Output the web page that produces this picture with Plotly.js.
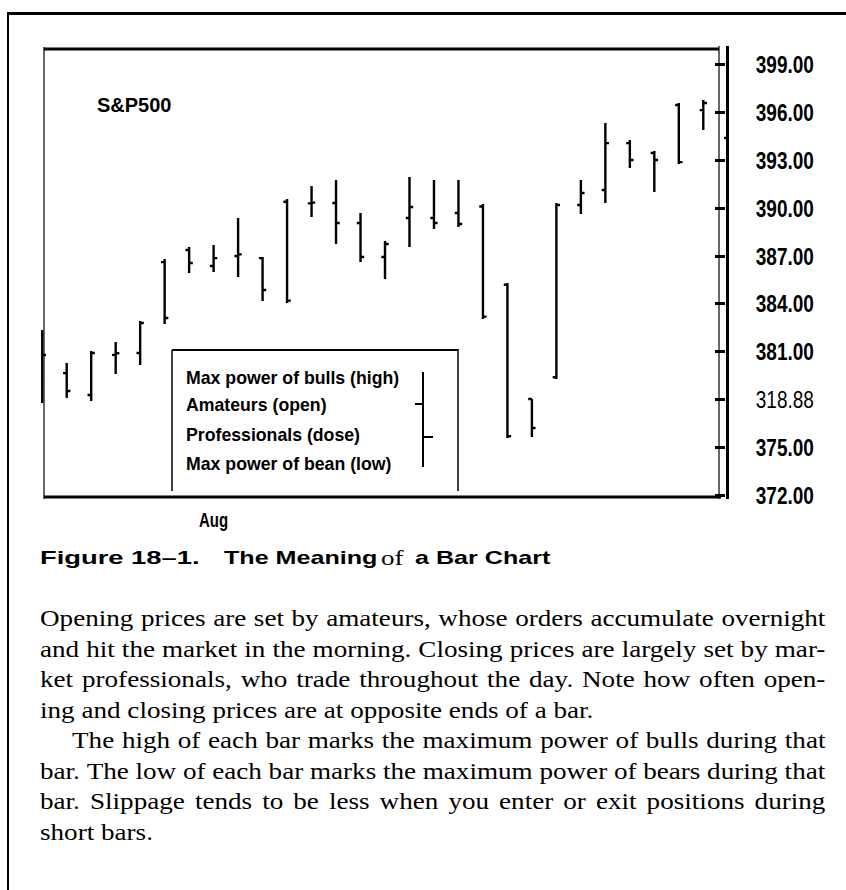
<!DOCTYPE html>
<html>
<head>
<meta charset="utf-8">
<script src="https://cdn.plot.ly/plotly-3.0.1.min.js"></script>
<style>
  html, body { margin: 0; padding: 0; background: #fff; }
  #page { position: relative; width: 846px; height: 890px; background: #fff; overflow: hidden; }
  #chart { position: absolute; left: 0; top: 0; width: 846px; height: 890px; }
  #frame { position: absolute; left: 7px; top: 12px; width: 839px; height: 878px; box-sizing: border-box;
           border-top: 3px solid #000; border-left: 2px solid #000; pointer-events: none; }
  .cap { position: absolute; white-space: nowrap; color: #000; line-height: 1; transform-origin: 0 0; }
  .capSans { font-family: "Liberation Sans", Arial, sans-serif; font-weight: bold; font-size: 18.6px; }
  .capSerif { font-family: "Liberation Serif", "Times New Roman", serif; font-size: 20px; }
  #body { position: absolute; left: 40px; top: 604px; width: 654.6px; transform: scaleX(1.2); transform-origin: 0 0;
          font-family: "Liberation Serif", "Times New Roman", serif; font-size: 22.6px; line-height: 30.5px; color: #000; }
  .jl { display: flex; justify-content: space-between; white-space: nowrap; }
  .ll { white-space: nowrap; }
</style>
</head>
<body>
<div id="page">
  <div id="chart"></div>
  <div id="frame"></div>
  <div id="caption"></div>
  <div id="body"></div>
</div>
<script>
// ---------------- data ----------------
const barIndex = [0,1,2,3,4,5,6,7,8,9,10,11,12,13,14,15,16,17,18,19,20,21,22,23,24,25,26,27,28];
const openVals  = [379.29,379.66,378.29,380.80,380.92,386.62,387.38,386.37,387.00,386.87,390.40,390.30,390.32,389.07,386.94,389.38,389.38,389.70,390.10,385.20,378.03,379.40,390.20,391.14,394.08,393.46,396.47,396.15,394.40];
const highVals  = [382.36,380.29,381.04,381.61,382.92,386.81,387.56,387.69,389.38,386.94,390.57,391.39,391.76,389.70,387.94,391.95,391.76,391.76,390.26,385.31,378.03,390.32,391.76,395.34,394.27,393.58,396.59,396.78,396.15];
const lowVals   = [377.78,378.10,377.91,379.60,380.17,382.74,385.93,386.00,385.68,384.18,384.05,389.45,387.75,386.62,385.56,387.56,388.69,388.82,383.05,375.59,375.65,379.29,389.63,390.32,392.52,391.01,392.77,394.90,392.83];
const closeVals = [380.79,378.54,380.92,380.90,382.80,383.11,386.56,386.87,387.10,384.87,384.20,390.35,389.07,386.94,387.75,390.07,389.07,389.01,383.20,375.70,376.22,390.20,390.95,394.08,393.02,393.02,392.89,396.59,395.03];

const priceTicks    = [372, 375, 378, 381, 384, 387, 390, 393, 396, 399];
const priceTickText = ['372.00','375.00','318.88','381.00','384.00','387.00','390.00','393.00','396.00','399.00'];
const monthTickIndex = [7];
const monthTickText  = ['Aug'];

const chartLabel = 'S&P500';
const legendLabels = ['Max power of bulls (high)', 'Amateurs (open)', 'Professionals (dose)', 'Max power of bean (low)'];

const captionParts = ['Figure 18\u20131.', 'The Meaning', 'of', 'a Bar Chart'];
const bodyLines = [
  'Opening prices are set by amateurs, whose orders accumulate overnight',
  'and hit the market in the morning. Closing prices are largely set by mar-',
  'ket professionals, who trade throughout the day. Note how often open-',
  'ing and closing prices are at opposite ends of a bar.',
  'The high of each bar marks the maximum power of bulls during that',
  'bar. The low of each bar marks the maximum power of bears during that',
  'bar. Slippage tends to be less when you enter or exit positions during',
  'short bars.'
];

// ---------------- layout helpers ----------------
const L = 41, R = 729, T = 49, B = 497;          // plot area in pixels
const W = 846, H = 890;
const px = x => (x - L) / (R - L);
const py = y => (B - y) / (B - T);

const sans = '"Liberation Sans", Arial, sans-serif';

const trace = {
  type: 'ohlc',
  x: barIndex, open: openVals, high: highVals, low: lowVals, close: closeVals,
  increasing: { line: { color: '#000', width: 2.4 } },
  decreasing: { line: { color: '#000', width: 2.4 } },
  tickwidth: 0.15,
  hoverinfo: 'skip',
  showlegend: false
};

function seg(x0, y0, x1, y1, w) {
  return { type: 'line', xref: 'paper', yref: 'paper', x0: px(x0), y0: py(y0), x1: px(x1), y1: py(y1),
           line: { color: '#000', width: w } };
}

const shapes = [
  seg(44, 49, 719, 49, 3),      // top border
  seg(44, 497, 721, 497, 3),    // bottom border
  seg(44, 47, 44, 499, 1.2),    // left axis
  seg(719, 46, 719, 499, 1.2),  // right thin axis
  seg(727.5, 46, 727.5, 499, 3),// right thick line
  // legend box
  seg(172, 350, 172, 491, 1.5),
  seg(172, 350, 458, 350, 2),
  seg(458, 349, 458, 491, 1.5),
  // legend glyph
  seg(423, 372, 423, 467, 2),
  seg(415, 404, 423, 404, 2),
  seg(423, 437, 433, 437, 2)
];

const legendY = [378, 405, 435, 464];
const annotations = [
  { xref: 'paper', yref: 'paper', x: px(95), y: py(105), xanchor: 'left', yanchor: 'middle', showarrow: false,
    text: '<b>' + chartLabel + '</b>', font: { family: sans, size: 20, color: '#000' } }
].concat(legendLabels.map((t, i) => ({
    xref: 'paper', yref: 'paper', x: px(184), y: py(legendY[i]), xanchor: 'left', yanchor: 'middle', showarrow: false,
    text: '<b>' + t + '</b>', font: { family: sans, size: 17.7, color: '#000' }
})));

const layout = {
  width: W, height: H,
  margin: { l: L, r: W - R, t: T, b: H - B, pad: 0 },
  paper_bgcolor: '#fff', plot_bgcolor: '#fff',
  showlegend: false,
  font: { family: sans, color: '#000' },
  xaxis: {
    range: [-0.05, 28.05], rangeslider: { visible: false },
    showgrid: false, zeroline: false, showline: false,
    tickmode: 'array', tickvals: monthTickIndex, ticktext: monthTickText.map(t => '<b>' + t + '</b>'),
    ticks: '', ticklabelstandoff: 12,
    tickfont: { family: sans, size: 15, color: '#000' }
  },
  yaxis: {
    range: [371.89, 399.98], side: 'right', anchor: 'free', position: px(714),
    showgrid: false, zeroline: false, showline: false,
    tickmode: 'array', tickvals: priceTicks,
    ticktext: priceTickText.map(t => t === '318.88' ? t : '<b>' + t + '</b>'),
    ticks: 'outside', ticklen: 10, tickwidth: 3, tickcolor: '#000',
    ticklabelstandoff: 27,
    tickfont: { family: sans, size: 19, color: '#000' }
  },
  shapes: shapes,
  annotations: annotations
};

Plotly.newPlot('chart', [trace], layout, { staticPlot: true, displayModeBar: false }).then(() => {
  // stretch the tick labels vertically to mimic the tall plotter font
  document.querySelectorAll('#chart .ytick text, #chart .xtick text').forEach(el => {
    const bb = el.getBBox();
    const cy = bb.y + bb.height / 2;
    const t = el.getAttribute('transform') || '';
    el.setAttribute('transform', t + ' translate(0,' + cy + ') scale(1,1.3) translate(0,' + (-cy) + ')');
  });
});

// ---------------- caption & body text ----------------
const capLeft = [40, 223.5, 381, 415];
const capScale = [1.47, 1.35, 1.35, 1.35];
const cap = document.getElementById('caption');
captionParts.forEach((t, i) => {
  const s = document.createElement('div');
  const serif = (t === 'of');
  s.className = 'cap ' + (serif ? 'capSerif' : 'capSans');
  s.style.left = capLeft[i] + 'px';
  s.style.top = (serif ? 548.3 : 549.3) + 'px';
  s.style.transform = 'scaleX(' + capScale[i] + ')';
  s.textContent = t;
  cap.appendChild(s);
});

const body = document.getElementById('body');
const lastLines = new Set([3, 7]);
const indentLines = { 4: 26.7 };
bodyLines.forEach((line, i) => {
  const d = document.createElement('div');
  if (indentLines[i]) d.style.paddingLeft = indentLines[i] + 'px';
  if (lastLines.has(i)) {
    d.className = 'll';
    d.textContent = line;
  } else {
    d.className = 'jl';
    line.split(' ').forEach(w => {
      const sp = document.createElement('span');
      sp.textContent = w;
      d.appendChild(sp);
    });
  }
  body.appendChild(d);
});
</script>
</body>
</html>
